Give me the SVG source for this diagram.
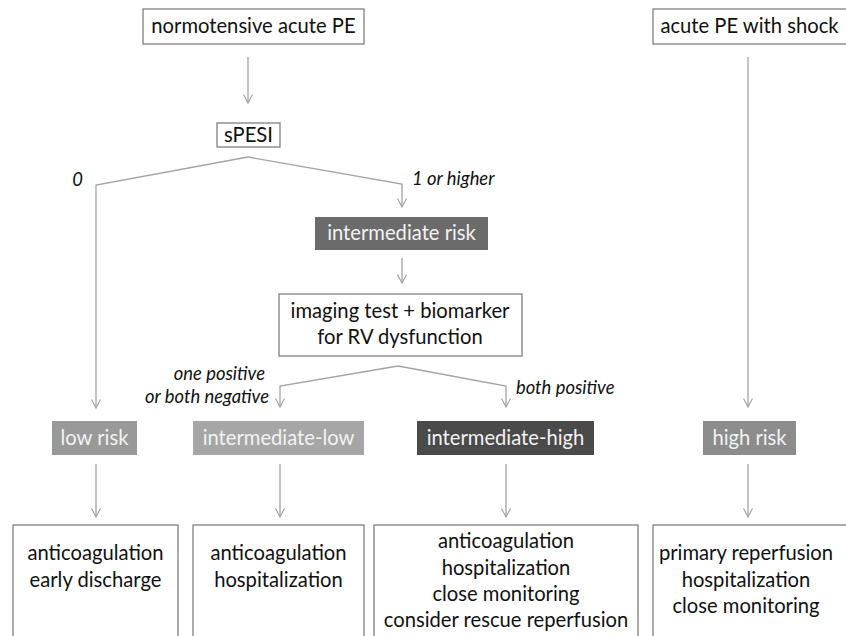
<svg xmlns="http://www.w3.org/2000/svg" width="846" height="636" viewBox="0 0 846 636">
<style>
text{font-family:Lato,"Liberation Sans",sans-serif;font-size:20.2px;fill:#111;text-anchor:middle}
.lbl{font-style:italic;font-size:18.4px}
.end{text-anchor:end}
.start{text-anchor:start}
.box{fill:#fff;stroke:#808080;stroke-width:1.3}
.rk text{fill:#f2f2f2}
.c{fill:none;stroke:#a3a3a3;stroke-width:1.3}
</style>
<defs>
<marker id="ah" viewBox="-10 -6 12 12" refX="0" refY="0" markerWidth="12" markerHeight="12" markerUnits="userSpaceOnUse" orient="auto">
<path d="M-8.5,-4.5 L0,0 L-8.5,4.5" fill="none" stroke="#a3a3a3" stroke-width="1.2"/>
</marker>
</defs>
<rect width="846" height="636" fill="#fff"/>
<g id="connectors">
<path class="c" d="M248,57 V103" marker-end="url(#ah)"/>
<path class="c" d="M248,157 L96,185 V408" marker-end="url(#ah)"/>
<path class="c" d="M248,157 L402,184 V207" marker-end="url(#ah)"/>
<path class="c" d="M402,258 V283" marker-end="url(#ah)"/>
<path class="c" d="M398,366 L280,386 V407" marker-end="url(#ah)"/>
<path class="c" d="M398,366 L506,386 V407" marker-end="url(#ah)"/>
<path class="c" d="M748,57 V407" marker-end="url(#ah)"/>
<path class="c" d="M96,464 V517" marker-end="url(#ah)"/>
<path class="c" d="M280,464 V517" marker-end="url(#ah)"/>
<path class="c" d="M506,464 V517" marker-end="url(#ah)"/>
<path class="c" d="M748,464 V517" marker-end="url(#ah)"/>
</g>
<g id="labels">
<text class="lbl end" x="83" y="186">0</text>
<text class="lbl start" x="412" y="185">1 or higher</text>
<text class="lbl end" x="265" y="380">one positive</text>
<text class="lbl end" x="269" y="403">or both negative</text>
<text class="lbl start" x="516" y="394">both positive</text>
</g>
<g id="normotensive">
<rect class="box" x="143" y="9" width="221" height="35"/>
<text x="253.5" y="33">normotensive acute PE</text>
</g>
<g id="shock">
<rect class="box" x="653" y="9" width="200" height="35"/>
<text x="749.5" y="33">acute PE with shock</text>
</g>
<g id="spesi">
<rect class="box" x="217" y="123" width="63" height="24"/>
<text x="248.5" y="142">sPESI</text>
</g>
<g id="intermediate-risk" class="rk">
<rect x="315" y="217" width="173" height="33" fill="#6b6b6b"/>
<text x="401.5" y="240">intermediate risk</text>
</g>
<g id="imaging">
<rect class="box" x="279" y="294" width="243" height="62"/>
<text x="400" y="318">imaging test + biomarker</text>
<text x="400" y="344">for RV dysfunction</text>
</g>
<g id="low-risk" class="rk">
<rect x="52" y="421" width="85" height="34" fill="#999"/>
<text x="94.5" y="445">low risk</text>
</g>
<g id="intermediate-low" class="rk">
<rect x="193" y="421" width="171" height="34" fill="#a6a6a6"/>
<text x="278.5" y="445">intermediate-low</text>
</g>
<g id="intermediate-high" class="rk">
<rect x="417" y="421" width="177" height="34" fill="#4a4a4a"/>
<text x="505.5" y="445">intermediate-high</text>
</g>
<g id="high-risk" class="rk">
<rect x="703" y="421" width="93" height="34" fill="#8c8c8c"/>
<text x="749.5" y="445">high risk</text>
</g>
<g id="mgmt-low">
<rect class="box" x="13" y="525" width="165" height="125"/>
<text x="95.5" y="560">anticoagulation</text>
<text x="95.5" y="587">early discharge</text>
</g>
<g id="mgmt-intlow">
<rect class="box" x="193" y="525" width="171" height="125"/>
<text x="278.5" y="560">anticoagulation</text>
<text x="278.5" y="587">hospitalization</text>
</g>
<g id="mgmt-inthigh">
<rect class="box" x="374" y="525" width="264" height="125"/>
<text x="506" y="548">anticoagulation</text>
<text x="506" y="575">hospitalization</text>
<text x="506" y="601">close monitoring</text>
<text x="506" y="627">consider rescue reperfusion</text>
</g>
<g id="mgmt-high">
<rect class="box" x="653" y="525" width="200" height="125"/>
<text x="746" y="560">primary reperfusion</text>
<text x="746" y="587">hospitalization</text>
<text x="746" y="613">close monitoring</text>
</g>
</svg>
